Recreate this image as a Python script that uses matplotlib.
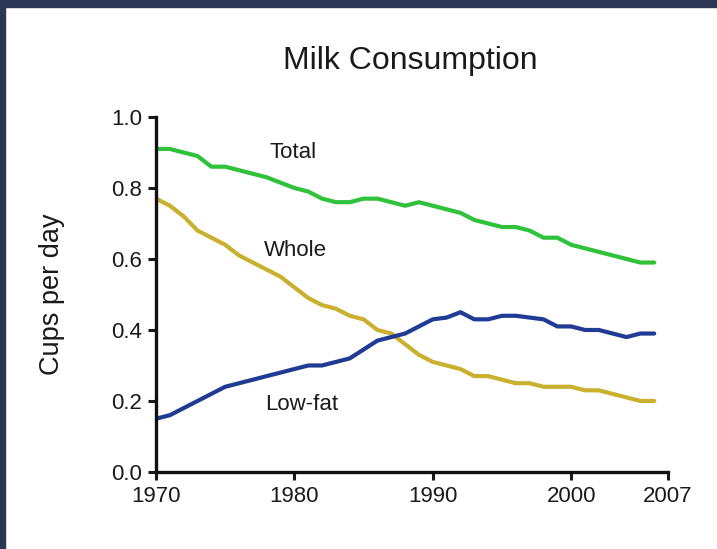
import matplotlib.pyplot as plt
from matplotlib.patches import Rectangle

# data
years = list(range(1970, 2007))
total = [0.91, 0.91, 0.90, 0.89, 0.86, 0.86, 0.85, 0.84, 0.83, 0.815,
         0.80, 0.79, 0.77, 0.76, 0.76, 0.77, 0.77, 0.76, 0.75, 0.76,
         0.75, 0.74, 0.73, 0.71, 0.70, 0.69, 0.69, 0.68, 0.66, 0.66,
         0.64, 0.63, 0.62, 0.61, 0.60, 0.59, 0.59]
whole = [0.77, 0.75, 0.72, 0.68, 0.66, 0.64, 0.61, 0.59, 0.57, 0.55,
         0.52, 0.49, 0.47, 0.46, 0.44, 0.43, 0.40, 0.39, 0.36, 0.33,
         0.31, 0.30, 0.29, 0.27, 0.27, 0.26, 0.25, 0.25, 0.24, 0.24,
         0.24, 0.23, 0.23, 0.22, 0.21, 0.20, 0.20]
lowfat = [0.15, 0.16, 0.18, 0.20, 0.22, 0.24, 0.25, 0.26, 0.27, 0.28,
          0.29, 0.30, 0.30, 0.31, 0.32, 0.345, 0.37, 0.38, 0.39, 0.41,
          0.43, 0.435, 0.45, 0.43, 0.43, 0.44, 0.44, 0.435, 0.43, 0.41,
          0.41, 0.40, 0.40, 0.39, 0.38, 0.39, 0.39]

xticks = [1970, 1980, 1990, 2000, 2007]
yticks = [0.0, 0.2, 0.4, 0.6, 0.8, 1.0]

plt.rcParams['font.family'] = ['Liberation Sans', 'DejaVu Sans']
txtcol = '#1a1a1a'

fig = plt.figure(figsize=(7.17, 5.49), dpi=100)
ax = fig.add_axes([0.2176, 0.1403, 0.7141, 0.6466])

ax.plot(years, total, color='#2fc23a', lw=3.0, solid_capstyle='round', solid_joinstyle='round')
ax.plot(years, whole, color='#c9b02e', lw=3.0, solid_capstyle='round', solid_joinstyle='round')
ax.plot(years, lowfat, color='#1f3b93', lw=3.0, solid_capstyle='round', solid_joinstyle='round')

# series names written next to the lines
ax.text(1979.9, 0.90, 'Total', ha='center', va='center', fontsize=16, color=txtcol)
ax.text(1980.1, 0.623, 'Whole', ha='center', va='center', fontsize=16, color=txtcol)
ax.text(1980.5, 0.189, 'Low-fat', ha='center', va='center', fontsize=16, color=txtcol)

ax.set_xlim(1970, 2007)
ax.set_ylim(0, 1.0)
ax.set_xticks(xticks)
ax.set_yticks(yticks)
ax.set_yticklabels(['%.1f' % v for v in yticks])
ax.tick_params(width=2.2, length=6, labelsize=16, colors=txtcol, pad=4)
for s in ['top', 'right']:
    ax.spines[s].set_visible(False)
for s in ['left', 'bottom']:
    ax.spines[s].set_linewidth(2.4)
    ax.spines[s].set_color('#111111')
for lbl in ax.get_xticklabels() + ax.get_yticklabels():
    lbl.set_clip_on(False)

ax.set_ylabel('Cups per day', fontsize=19.5, color=txtcol, va='center')
ax.yaxis.set_label_coords(-0.203, 0.5)
fig.text(0.572, 0.888, 'Milk Consumption', ha='center', va='center', fontsize=23, color=txtcol)

# dark frame around the picture
fig.add_artist(Rectangle((0, 0), 0.007, 1, transform=fig.transFigure, color='#2c3553', zorder=10))
fig.add_artist(Rectangle((0, 0.987), 1, 0.013, transform=fig.transFigure, color='#2c3553', zorder=10))

fig.savefig('out.png', dpi=100)
